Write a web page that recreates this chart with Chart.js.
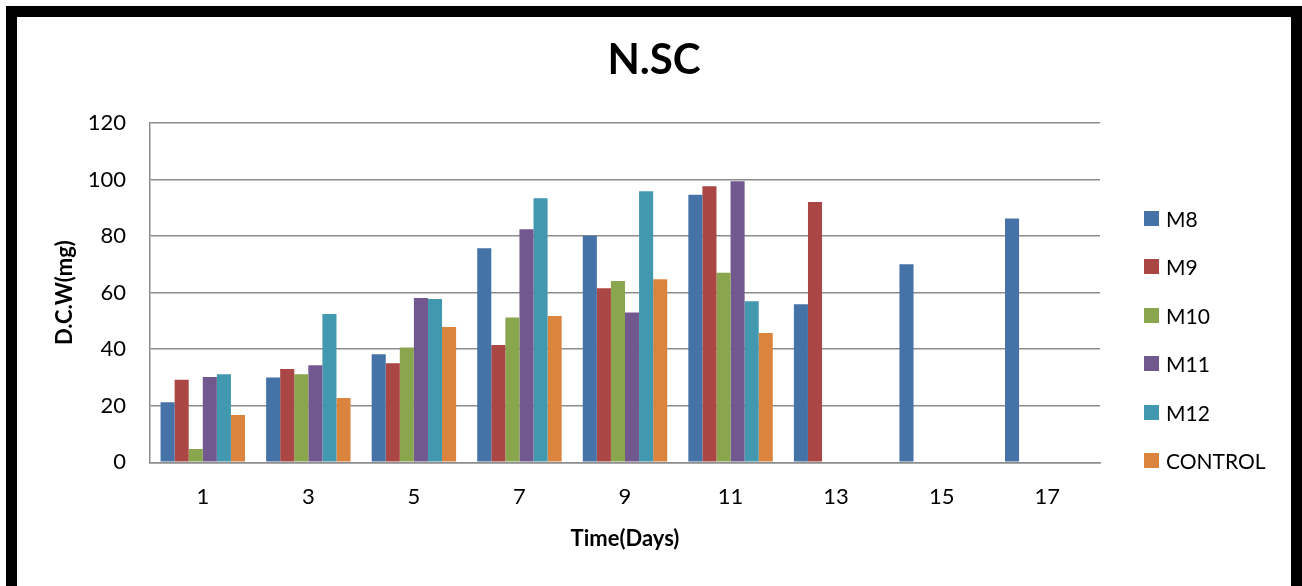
<!DOCTYPE html>
<html>
<head>
<meta charset="utf-8">
<script src="https://cdn.jsdelivr.net/npm/chart.js"></script>
<style>
  html, body { margin: 0; padding: 0; background: #fff; overflow: hidden; }
  .frame {
    position: absolute; left: 6px; top: 6px;
    width: 1274px; height: 574px;
    border: 11px solid #000; background: #fff;
  }
  #chart-canvas { position: absolute; left: 0; top: 0; }
  .legend { position: absolute; left: 1127px; top: 177px; font-family: Lato, sans-serif; font-size: 21px; color: #000; }
  .legend-item { height: 48.5px; display: flex; align-items: center; }
  .legend-box { width: 15px; height: 15px; margin-right: 7px; }
</style>
</head>
<body>
<div class="frame">
  <canvas id="chart-canvas" width="1274" height="563"></canvas>
  <div class="legend"></div>
</div>
<script>
const days = ["1", "3", "5", "7", "9", "11", "13", "15", "17"];
const seriesNames = ["M8", "M9", "M10", "M11", "M12", "CONTROL"];
const seriesColors = ["#4572A7", "#AA4643", "#89A54E", "#71588F", "#4198AF", "#DB843D"];

const m8 = [21.2, 30.0, 38.2, 75.7, 80.1, 94.6, 55.9, 70.0, 86.2];
const m9 = [29.2, 33.0, 35.0, 41.5, 61.5, 97.6, 92.0, null, null];
const m10 = [4.7, 31.1, 40.6, 51.2, 64.1, 67.0, null, null, null];
const m11 = [30.2, 34.3, 58.1, 82.4, 53.0, 99.4, null, null, null];
const m12 = [31.1, 52.4, 57.7, 93.4, 95.8, 56.9, null, null, null];
const control = [16.7, 22.7, 47.8, 51.7, 64.7, 45.7, null, null, null];

const yTicks = [0, 20, 40, 60, 80, 100, 120];

const chartCanvas = document.querySelector("#chart-canvas");
const legendBox = document.querySelector(".legend");

const allSeries = [m8, m9, m10, m11, m12, control];
const datasets = allSeries.map((values, i) => {
  return {
    label: seriesNames[i],
    data: values,
    backgroundColor: seriesColors[i],
    borderWidth: 0,
    barPercentage: 1.0,
    categoryPercentage: 0.8,
  };
});

// plot area in canvas pixels
const PLOT_LEFT = 133;
const PLOT_RIGHT = 1083;
const PLOT_BOTTOM = 445.3;
const PAD = 10;

new Chart(chartCanvas, {
  type: "bar",
  data: { labels: days, datasets: datasets },
  options: {
    responsive: false,
    animation: false,
    layout: { padding: { left: PAD, right: PAD, top: 0, bottom: PAD } },
    plugins: {
      legend: { display: false },
      tooltip: { enabled: false },
      title: {
        display: true,
        text: "N.SC",
        color: "#000",
        font: { family: "Lato", size: 42, weight: "bold" },
        padding: { top: 18, bottom: 37.5 },
      },
    },
    scales: {
      x: {
        grid: { display: false, drawTicks: false },
        border: { color: "#8c8c8c", width: 1.5 },
        ticks: { color: "#000", font: { family: "Lato", size: 22 }, padding: 21 },
        title: {
          display: true,
          text: "Time(Days)",
          color: "#000",
          font: { family: "Lato", size: 22, weight: "bold" },
          padding: { top: 10, bottom: 18 },
        },
        afterFit: (scale) => {
          scale.height = 563 - PAD - PLOT_BOTTOM;
        },
      },
      y: {
        min: 0,
        max: 120,
        afterBuildTicks: (scale) => {
          scale.ticks = yTicks.map((v) => ({ value: v }));
        },
        grid: { color: "#8c8c8c", lineWidth: 1.5, drawTicks: false },
        border: { color: "#8c8c8c", width: 1.5 },
        ticks: { color: "#000", font: { family: "Lato", size: 22 }, padding: 24 },
        title: {
          display: true,
          text: "D.C.W(mg)",
          color: "#000",
          font: { family: "Lato", size: 22, weight: "bold" },
          padding: { top: 25, bottom: 10 },
        },
        afterFit: (scale) => {
          scale.width = PLOT_LEFT - PAD;
        },
      },
      // empty right axis, only reserves the room where the legend sits
      legendSpace: {
        position: "right",
        min: 0,
        max: 120,
        grid: { display: false, drawTicks: false },
        border: { display: false },
        ticks: { display: false },
        afterFit: (scale) => {
          scale.width = 1274 - PAD - PLOT_RIGHT;
        },
      },
    },
  },
});

legendBox.innerHTML = seriesNames
  .map((name, i) => `<div class="legend-item"><span class="legend-box" style="background:${seriesColors[i]}"></span>${name}</div>`)
  .join("");
</script>
</body>
</html>
